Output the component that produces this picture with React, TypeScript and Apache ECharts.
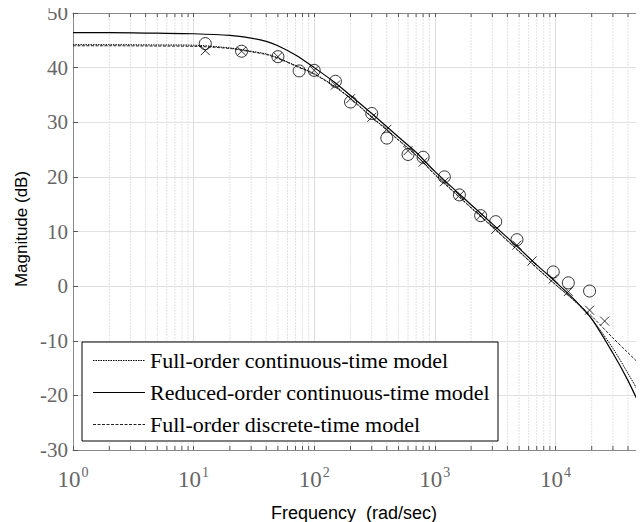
import React, { useEffect, useRef } from "react";
import * as echarts from "echarts";

// Frequency grid (rad/sec) on which the model responses are tabulated
const freq = [1, 2, 5, 10, 20, 30, 40, 50, 70, 100, 150, 200, 300, 500, 700, 1000, 2000, 3000, 5000, 7000, 10000, 15000, 20000, 30000, 40000, 50000, 60000];

// Magnitude (dB) of each model
const magFullCont = [44.2, 44.2, 44.15, 44.1, 43.6, 43.0, 42.5, 41.8, 40.4, 38.9, 36.5, 34.4, 31.0, 26.8, 24.0, 20.5, 14.4, 10.9, 6.4, 3.4, 0.3, -3.1, -6.0, -11.4, -16.0, -19.7, -23.0];
const magReduced = [46.4, 46.4, 46.3, 46.2, 45.9, 45.4, 44.8, 44.0, 42.3, 40.0, 37.2, 34.9, 31.6, 27.3, 24.5, 21.0, 14.9, 11.4, 6.9, 3.9, 0.8, -2.9, -6.0, -12.3, -17.3, -21.8, -25.5];
const magFullDisc = [44.0, 44.0, 43.95, 43.9, 43.5, 42.9, 42.4, 41.7, 40.3, 38.8, 36.4, 34.3, 30.9, 26.7, 23.9, 20.4, 14.3, 10.8, 6.3, 3.3, 0.3, -3.0, -5.5, -9.5, -12.2, -14.3, -16.0];

// Measured points, circles
const circleFreq = [12.5, 25, 50, 75, 100, 150, 200, 300, 400, 600, 800, 1200, 1600, 2400, 3200, 4800, 9600, 12800, 19200];
const circleMag = [44.4, 43.0, 42.0, 39.4, 39.5, 37.5, 33.7, 31.6, 27.1, 24.1, 23.6, 20.0, 16.7, 12.9, 11.8, 8.5, 2.6, 0.6, -0.9];

// Measured points, crosses
const crossFreq = [12.5, 25, 50, 100, 150, 200, 300, 400, 600, 800, 1200, 1600, 2400, 3200, 4800, 6400, 9600, 12800, 19200, 25600];
const crossMag = [43.1, 43.0, 42.0, 39.5, 36.8, 34.3, 30.9, 28.7, 24.8, 22.7, 19.1, 16.6, 12.9, 10.4, 7.5, 4.6, 1.3, -1.0, -4.4, -6.4];

// Axis ranges
const xMin = 1;
const xMax = 100000;
const yMin = -30;
const yMax = 50;
const yStep = 10;

const seriesNames = [
  "Full-order continuous-time model",
  "Reduced-order continuous-time model",
  "Full-order discrete-time model",
];

// Line styles of the three model curves (shared by the legend samples)
const curveStyles = [
  { color: "#000", width: 1, dash: [1.5, 1] },
  { color: "#000", width: 1.2, dash: null as number[] | null },
  { color: "#222", width: 1, dash: [3, 1.5] },
];

// Minor log-decade positions (2..9 x 10^k) for the fine grid
const minorFreq: number[] = [];
for (let d = xMin; d < xMax; d *= 10) {
  for (let m = 2; m <= 9; m++) minorFreq.push(m * d);
}

const SERIF = '"Liberation Serif", "Times New Roman", serif';
const SANS = '"Liberation Sans", Arial, sans-serif';

const pair = (xs: number[], ys: number[]) => xs.map((x, i) => [x, ys[i]]);

export default function App() {
  const ref = useRef<HTMLDivElement>(null);

  useEffect(() => {
    if (!ref.current) return;
    const chart = echarts.init(ref.current, undefined, { renderer: "svg" });

    const tickColor = "#555";
    const axisColor = "#8a8a8a";

    // legend box geometry
    const lgX = 82;
    const lgY = 342;
    const lgW = 416;
    const lgH = 99;
    const rowTop = 6;
    const rowH = 24;
    const rowGap = 8;

    const legendSamples = curveStyles.map((s, i) => {
      const y = lgY + rowTop + rowH / 2 + i * (rowH + rowGap) + 0.5;
      return {
        type: "line",
        z: 6,
        silent: true,
        shape: { x1: lgX + 11, y1: y, x2: lgX + 63, y2: y },
        style: {
          stroke: s.color,
          lineWidth: s.width,
          lineDash: s.dash || undefined,
        },
      };
    });

    const curve = (i: number, values: number[]) => ({
      name: seriesNames[i],
      type: "line",
      data: pair(freq, values),
      smooth: 0.3,
      symbol: "none",
      z: 3,
      lineStyle: {
        color: curveStyles[i].color,
        width: curveStyles[i].width,
        type: curveStyles[i].dash || "solid",
      },
      itemStyle: { color: curveStyles[i].color },
    });

    chart.setOption({
      animation: false,
      backgroundColor: "#fff",
      grid: { left: 73, top: 7, width: 603, height: 443 },
      xAxis: [
        {
          type: "log",
          logBase: 10,
          min: xMin,
          max: xMax,
          axisLine: { onZero: false, lineStyle: { color: axisColor, width: 1 } },
          axisTick: { inside: true, length: 4, lineStyle: { color: tickColor } },
          splitLine: { show: true, lineStyle: { color: "#dcdcdc", width: 1 } },
          axisLabel: {
            margin: 16,
            color: "#666",
            formatter: (v: number) =>
              v >= xMax ? "" : `{b|10}{s|${Math.round(Math.log10(v))}}`,
            rich: {
              b: { fontFamily: SERIF, fontSize: 23, color: "#666", lineHeight: 26 },
              s: { fontFamily: SERIF, fontSize: 14, color: "#666", padding: [0, 0, 14, 1], lineHeight: 14 },
            },
          },
        },
        {
          type: "log",
          logBase: 10,
          min: xMin,
          max: xMax,
          position: "top",
          axisLine: { onZero: false, lineStyle: { color: axisColor, width: 1 } },
          axisTick: { inside: true, length: 4, lineStyle: { color: tickColor } },
          axisLabel: { show: false },
          splitLine: { show: false },
        },
      ],
      yAxis: {
        type: "value",
        min: yMin,
        max: yMax,
        interval: yStep,
        axisLine: { show: true, onZero: false, lineStyle: { color: axisColor, width: 1 } },
        axisTick: { show: true, inside: true, length: 5, lineStyle: { color: tickColor } },
        splitLine: { show: true, lineStyle: { color: "#e0e0e0", width: 1 } },
        axisLabel: {
          margin: 5,
          color: "#666",
          fontFamily: SERIF,
          fontSize: 21,
          lineHeight: 21,
          padding: [5, 0, 0, 0],
        },
      },
      legend: {
        data: seriesNames,
        icon: "none",
        orient: "vertical",
        left: lgX,
        top: lgY,
        padding: [rowTop, 8, 5, 11],
        itemWidth: 52,
        itemHeight: 14,
        itemGap: rowGap,
        textStyle: { fontFamily: SERIF, fontSize: 22, color: "#000", lineHeight: rowH },
        selectedMode: false,
        z: 5,
      },
      graphic: [
        {
          type: "rect",
          z: 4,
          silent: true,
          shape: { x: lgX, y: lgY, width: lgW, height: lgH },
          style: { fill: "#fff", stroke: "#000", lineWidth: 1 },
        },
        ...legendSamples,
        {
          type: "text",
          x: 21,
          y: 229,
          rotation: Math.PI / 2,
          style: {
            text: "Magnitude (dB)",
            font: `17px ${SANS}`,
            fill: "#000",
            textAlign: "center",
            textVerticalAlign: "middle",
          },
        },
        {
          type: "text",
          x: 354,
          y: 513,
          style: {
            text: "Frequency  (rad/sec)",
            font: `18px ${SANS}`,
            fill: "#000",
            textAlign: "center",
            textVerticalAlign: "middle",
          },
        },
      ],
      series: [
        {
          // fine log grid with its small ticks
          type: "custom",
          silent: true,
          z: 1,
          data: minorFreq.map((f) => [f, 0]),
          encode: { x: 0, y: 1 },
          renderItem: (params: any, api: any) => {
            const x = api.coord([api.value(0), 0])[0];
            const cs = params.coordSys;
            const top = cs.y;
            const bottom = cs.y + cs.height;
            return {
              type: "group",
              children: [
                {
                  type: "line",
                  shape: { x1: x, y1: top, x2: x, y2: bottom },
                  style: { stroke: "#e2e2e2", lineWidth: 1, lineDash: [2, 1] },
                },
                {
                  type: "line",
                  shape: { x1: x, y1: bottom, x2: x, y2: bottom - 4 },
                  style: { stroke: tickColor, lineWidth: 1 },
                },
                {
                  type: "line",
                  shape: { x1: x, y1: top, x2: x, y2: top + 4 },
                  style: { stroke: tickColor, lineWidth: 1 },
                },
              ],
            };
          },
        },
        curve(0, magFullCont),
        curve(1, magReduced),
        curve(2, magFullDisc),
        {
          name: "Measured (o)",
          type: "scatter",
          data: pair(circleFreq, circleMag),
          symbol: "circle",
          symbolSize: 12,
          z: 3,
          itemStyle: { color: "rgba(0,0,0,0)", borderColor: "#000", borderWidth: 1 },
        },
        {
          name: "Measured (x)",
          type: "scatter",
          data: pair(crossFreq, crossMag),
          symbol: "path://M0,0L10,10M10,0L0,10",
          symbolSize: 9,
          z: 3,
          itemStyle: { color: "rgba(0,0,0,0)", borderColor: "#000", borderWidth: 1 },
        },
      ],
    });

    return () => chart.dispose();
  }, []);

  return (
    <div style={{ position: "relative", width: 636, height: 514, overflow: "hidden" }}>
      <div
        ref={ref}
        style={{ position: "absolute", left: -8, top: -8, width: 720, height: 560 }}
      />
    </div>
  );
}
